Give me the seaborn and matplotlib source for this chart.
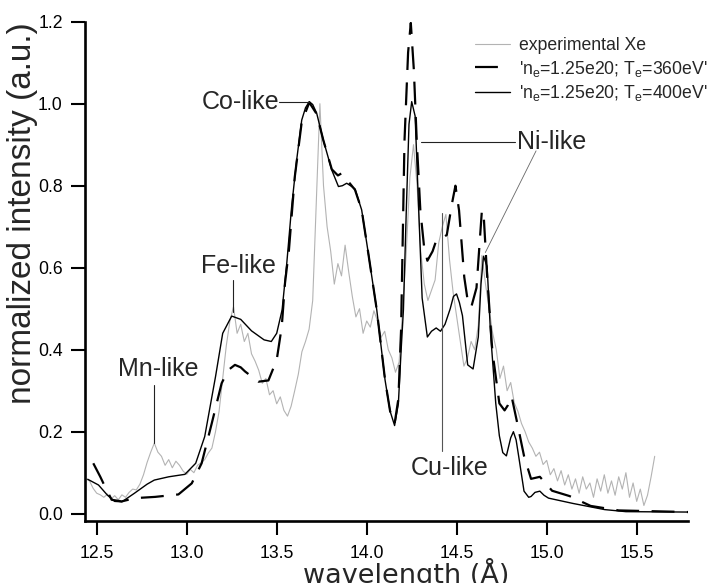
import numpy as np
import pandas as pd
import matplotlib
matplotlib.use("Agg")
import matplotlib.pyplot as plt
import seaborn as sns

# experimental Xe spectrum, sampled every 0.02 A from 12.44 A
exp_int = [0.085, 0.080, 0.062, 0.050, 0.046, 0.040, 0.048, 0.036, 0.044, 0.034,
           0.046, 0.040, 0.052, 0.060, 0.058, 0.072, 0.095, 0.125, 0.150, 0.172,
           0.150, 0.140, 0.118, 0.132, 0.112, 0.128, 0.118, 0.104, 0.096, 0.108,
           0.100, 0.118, 0.124, 0.132, 0.148, 0.160, 0.200, 0.250, 0.330, 0.410,
           0.470, 0.505, 0.440, 0.462, 0.420, 0.440, 0.390, 0.372, 0.350, 0.318,
           0.330, 0.290, 0.300, 0.268, 0.285, 0.252, 0.238, 0.262, 0.300, 0.340,
           0.395, 0.420, 0.450, 0.520, 0.760, 1.000, 0.800, 0.700, 0.640, 0.560,
           0.610, 0.580, 0.655, 0.590, 0.530, 0.480, 0.500, 0.440, 0.470, 0.455,
           0.495, 0.470, 0.430, 0.445, 0.400, 0.380, 0.345, 0.370, 0.500, 0.640,
           0.820, 0.900, 0.800, 0.640, 0.560, 0.520, 0.545, 0.570, 0.660, 0.700,
           0.730, 0.620, 0.540, 0.480, 0.420, 0.360, 0.380, 0.420, 0.400, 0.460,
           0.630, 0.560, 0.500, 0.440, 0.400, 0.330, 0.360, 0.300, 0.320, 0.270,
           0.250, 0.220, 0.200, 0.175, 0.160, 0.140, 0.150, 0.120, 0.130, 0.095,
           0.110, 0.080, 0.105, 0.070, 0.095, 0.060, 0.085, 0.050, 0.090, 0.060,
           0.075, 0.040, 0.085, 0.055, 0.095, 0.050, 0.080, 0.045, 0.090, 0.060,
           0.100, 0.040, 0.075, 0.030, 0.060, 0.020, 0.045, 0.090, 0.140]
exp_wl = np.round(12.44 + 0.02 * np.arange(len(exp_int)), 2)

# model, ne=1.25e20, Te=360eV (dashed)
t360_wl = [12.481, 12.52, 12.546, 12.583, 12.639, 12.713, 12.824, 12.954, 13.028, 13.083,
           13.139, 13.194, 13.23, 13.268, 13.30, 13.324, 13.398, 13.454, 13.50, 13.528,
           13.546, 13.568, 13.60, 13.639, 13.681, 13.722, 13.759, 13.806, 13.84, 13.86,
           13.889, 13.935, 13.972, 14.009, 14.056, 14.102, 14.13, 14.155, 14.176, 14.191,
           14.21, 14.23, 14.245, 14.262, 14.278, 14.298, 14.318, 14.337, 14.366, 14.386,
           14.415, 14.445, 14.474, 14.493, 14.513, 14.542, 14.561, 14.581, 14.61, 14.64,
           14.649, 14.669, 14.698, 14.737, 14.766, 14.785, 14.805, 14.834, 14.874, 14.913,
           14.962, 15.03, 15.127, 15.244, 15.40, 15.79]
t360_int = [0.123, 0.090, 0.066, 0.034, 0.030, 0.038, 0.041, 0.047, 0.074, 0.123,
            0.220, 0.318, 0.350, 0.363, 0.357, 0.347, 0.322, 0.325, 0.375, 0.456,
            0.562, 0.643, 0.820, 0.955, 1.003, 0.975, 0.911, 0.840, 0.825, 0.830,
            0.815, 0.790, 0.741, 0.635, 0.497, 0.326, 0.250, 0.220, 0.280, 0.449,
            0.910, 1.125, 1.197, 1.082, 0.910, 0.740, 0.654, 0.617, 0.640, 0.666,
            0.670, 0.680, 0.757, 0.800, 0.740, 0.577, 0.520, 0.504, 0.551, 0.740,
            0.735, 0.580, 0.397, 0.269, 0.252, 0.265, 0.286, 0.226, 0.141, 0.085,
            0.090, 0.056, 0.043, 0.019, 0.008, 0.004]

# model, ne=1.25e20, Te=400eV (solid)
t400_wl = [12.45, 12.51, 12.56, 12.60, 12.64, 12.71, 12.78, 12.82, 12.90, 12.99,
           13.05, 13.10, 13.16, 13.20, 13.25, 13.30, 13.36, 13.43, 13.47, 13.50,
           13.53, 13.556, 13.583, 13.611, 13.639, 13.66, 13.681, 13.70, 13.722, 13.759,
           13.806, 13.843, 13.865, 13.889, 13.91, 13.935, 13.972, 14.009, 14.056, 14.102,
           14.13, 14.155, 14.176, 14.191, 14.204, 14.22, 14.235, 14.25, 14.269, 14.289,
           14.308, 14.337, 14.36, 14.386, 14.41, 14.435, 14.464, 14.482, 14.499, 14.515,
           14.532, 14.561, 14.591, 14.62, 14.635, 14.649, 14.669, 14.688, 14.717, 14.737,
           14.756, 14.776, 14.80, 14.815, 14.83, 14.844, 14.874, 14.90, 14.913, 14.935,
           14.962, 14.985, 15.01, 15.146, 15.322, 15.44, 15.79]
t400_int = [0.084, 0.070, 0.045, 0.030, 0.029, 0.050, 0.072, 0.082, 0.090, 0.096,
            0.123, 0.188, 0.334, 0.440, 0.482, 0.474, 0.446, 0.424, 0.420, 0.440,
            0.497, 0.611, 0.749, 0.863, 0.960, 0.990, 1.005, 0.998, 0.977, 0.911,
            0.838, 0.798, 0.800, 0.806, 0.800, 0.792, 0.741, 0.635, 0.497, 0.326,
            0.250, 0.215, 0.269, 0.397, 0.497, 0.740, 0.950, 1.005, 0.970, 0.740,
            0.526, 0.431, 0.445, 0.453, 0.445, 0.462, 0.500, 0.530, 0.536, 0.515,
            0.483, 0.363, 0.353, 0.431, 0.560, 0.628, 0.603, 0.440, 0.269, 0.190,
            0.149, 0.141, 0.185, 0.200, 0.180, 0.141, 0.055, 0.040, 0.042, 0.052,
            0.055, 0.045, 0.038, 0.025, 0.010, 0.005, 0.004]

labels = ["experimental Xe",
          r"'n$_\mathregular{e}$=1.25e20; T$_\mathregular{e}$=360eV'",
          r"'n$_\mathregular{e}$=1.25e20; T$_\mathregular{e}$=400eV'"]

sns.set_style("ticks")
plt.rcParams['font.family'] = ['Liberation Sans', 'DejaVu Sans']

fig = plt.figure(figsize=(7.18, 5.83), dpi=100)
ax = fig.add_axes([85 / 718, 62 / 583, 603 / 718, 499.3 / 583])

exp_df = pd.DataFrame({'wl': exp_wl, 'I': exp_int})
d360 = pd.DataFrame({'wl': t360_wl, 'I': t360_int})
d400 = pd.DataFrame({'wl': t400_wl, 'I': t400_int})

sns.lineplot(data=exp_df, x='wl', y='I', ax=ax, color='#b3b3b3', lw=0.8, label=labels[0])
sns.lineplot(data=d360, x='wl', y='I', ax=ax, color='black', lw=1.6, label=labels[1])
ax.lines[-1].set_dashes((10.3, 5.6))
sns.lineplot(data=d400, x='wl', y='I', ax=ax, color='black', lw=1.0, label=labels[2])

ax.set_xlim(12.435, 15.785)
ax.set_ylim(-0.0178, 1.2)
ax.set_xticks([12.5, 13.0, 13.5, 14.0, 14.5, 15.0, 15.5])
ax.set_yticks([0.0, 0.2, 0.4, 0.6, 0.8, 1.0, 1.2])
ax.xaxis.set_major_formatter(matplotlib.ticker.FormatStrFormatter('%.1f'))
ax.yaxis.set_major_formatter(matplotlib.ticker.FormatStrFormatter('%.1f'))
ax.tick_params(direction='out', length=10, width=1.5, labelsize=12.7, color='black',
               labelcolor='black')
ax.tick_params(axis='x', pad=7)
ax.tick_params(axis='y', pad=6)
for s in ['top', 'right']:
    ax.spines[s].set_visible(False)
for s in ['left', 'bottom']:
    ax.spines[s].set_linewidth(1.9)
    ax.spines[s].set_color('black')

ax.set_xlabel(u"wavelength (\u00c5)", fontsize=19.5, family='DejaVu Sans', va='top')
ax.xaxis.set_label_coords(0.532, -0.075)
ax.set_ylabel("normalized intensity (a.u.)", fontsize=24, rotation=90,
              ha='center', va='center', rotation_mode='default')
ax.yaxis.set_label_coords(-0.104, 0.617)

leg = ax.legend(loc='upper left', bbox_to_anchor=(0.647, 0.969), frameon=False,
                fontsize=12.7, handlelength=2.0, handletextpad=0.5, borderpad=0,
                borderaxespad=0, labelspacing=0.25)

# peak labels
lc = '#222222'
fs = 18
ax.text(13.513, 1.003, "Co-like", fontsize=fs, ha='right', va='center')
ax.plot([13.513, 13.68], [1.003, 1.003], color=lc, lw=0.8)
ax.text(13.285, 0.588, "Fe-like", fontsize=fs, ha='center', va='baseline')
ax.plot([13.259, 13.259], [0.570, 0.493], color=lc, lw=0.8)
ax.text(12.842, 0.336, "Mn-like", fontsize=fs, ha='center', va='baseline')
ax.plot([12.818, 12.818], [0.313, 0.173], color=lc, lw=0.8)
ax.text(14.834, 0.906, "Ni-like", fontsize=fs, ha='left', va='center')
ax.plot([14.30, 14.824], [0.906, 0.906], color=lc, lw=0.8)
ax.plot([14.941, 14.659], [0.885, 0.637], color='#666666', lw=0.6)
ax.text(14.46, 0.094, "Cu-like", fontsize=fs, ha='center', va='baseline')
ax.plot([14.42, 14.42], [0.733, 0.153], color='#555555', lw=0.8)

fig.savefig("out.png", dpi=100)
